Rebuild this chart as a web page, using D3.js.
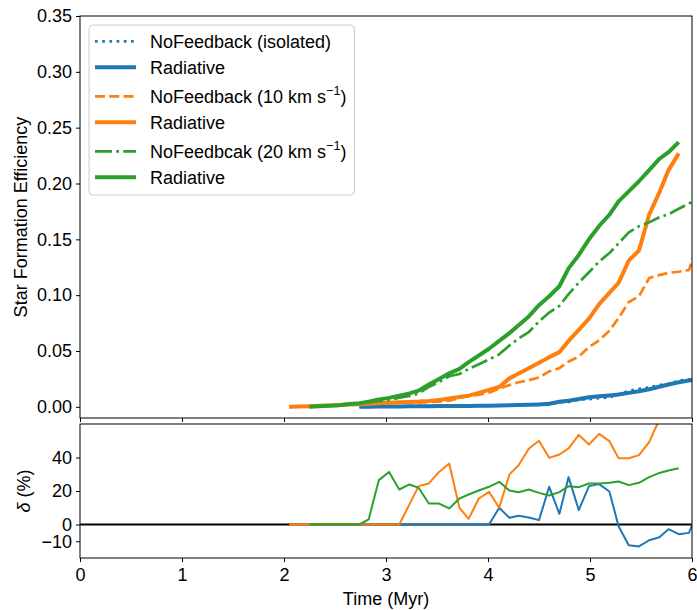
<!DOCTYPE html>
<html>
<head>
<meta charset="utf-8">
<script src="https://cdn.jsdelivr.net/npm/d3@7"></script>
<style>
body { margin: 0; background: #fff; }
svg text { font-family: "Liberation Sans", Arial, Helvetica, sans-serif; fill: #000; }
</style>
</head>
<body>
<div class="container"></div>
<script>
// snapshot times (Myr)
var timeMyr = [2.05,2.15,2.25,2.34,2.44,2.54,2.64,2.74,2.83,2.93,3.03,3.13,3.23,3.32,3.42,3.52,3.62,3.72,3.81,3.91,
               4.01,4.11,4.21,4.30,4.40,4.50,4.60,4.70,4.79,4.89,4.99,5.09,5.19,5.28,5.38,5.48,5.58,5.68,5.77,5.87,5.97,6.07];

// star formation efficiency, null = no data at that time
var isoNoFb = [null,null,null,null,null,null,null,
  0.0000,0.0001,0.0002,0.0003,0.0004,0.0005,0.0005,0.0006,0.0007,0.0007,0.0008,0.0008,0.0009,0.0010,
  0.0011,0.0013,0.0015,0.0017,0.0021,0.0022,0.0042,0.0043,0.0064,0.0069,0.0077,0.0085,0.0111,0.0143,
  0.0161,0.0174,0.0195,0.0206,0.0234,0.0247,0.0232];
var isoRad = [null,null,null,null,null,null,null,
  0.0000,0.0001,0.0002,0.0003,0.0004,0.0005,0.0005,0.0006,0.0007,0.0007,0.0008,0.0008,0.0009,0.0010,
  0.0012,0.0014,0.0016,0.0018,0.0022,0.0027,0.0045,0.0055,0.0070,0.0085,0.0095,0.0102,0.0110,0.0125,
  0.0140,0.0158,0.0180,0.0200,0.0220,0.0235,0.0255];
var v10NoFb = [0.0000,0.0003,0.0006,0.0009,0.0012,0.0016,0.0020,0.0024,0.0028,0.0032,0.0036,0.0040,
  0.0039,0.0038,0.0043,0.0047,0.0055,0.0080,0.0097,0.0108,0.0127,0.0162,0.0196,0.0220,0.0238,0.0263,
  0.0318,0.0346,0.0406,0.0450,0.0535,0.0597,0.0681,0.0795,0.0938,0.0990,0.1153,0.1180,0.1200,0.1210,
  0.1225,0.1500];
var v10Rad = [0.0000,0.0003,0.0006,0.0009,0.0012,0.0016,0.0020,0.0024,0.0028,0.0032,0.0036,0.0040,
  0.0044,0.0047,0.0053,0.0062,0.0075,0.0088,0.0100,0.0125,0.0152,0.0178,0.0255,0.0298,0.0345,0.0395,
  0.0445,0.0490,0.0590,0.0690,0.0790,0.0920,0.1020,0.1110,0.1310,0.1400,0.1720,0.1920,0.2120,0.2270,
  null,null];
var v20NoFb = [null,null,
  0.0000,0.0005,0.0010,0.0015,0.0025,0.0033,0.0044,0.0051,0.0061,0.0083,0.0097,0.0119,0.0178,0.0222,
  0.0274,0.0294,0.0339,0.0382,0.0424,0.0470,0.0549,0.0612,0.0670,0.0765,0.0844,0.0905,0.1009,0.1112,
  0.1205,0.1301,0.1377,0.1464,0.1563,0.1617,0.1652,0.1697,0.1725,0.1774,0.1820,0.1880];
var v20Rad = [null,null,
  0.0000,0.0005,0.0010,0.0015,0.0025,0.0033,0.0045,0.0065,0.0080,0.0100,0.0120,0.0145,0.0200,0.0250,
  0.0300,0.0340,0.0400,0.0460,0.0520,0.0590,0.0660,0.0730,0.0810,0.0910,0.0990,0.1080,0.1240,0.1360,
  0.1500,0.1620,0.1720,0.1840,0.1930,0.2020,0.2120,0.2220,0.2280,0.2370,null,null];

// relative difference delta (%)
var deltaIso = [null,null,null,null,null,null,null,
  0,0,0,0,0,0,0,0,0,0,0,0,0,0,
  10.0,4.0,5.2,4.2,2.6,22.5,6.4,28.3,8.6,22.9,24.1,19.7,-1.0,-12.4,-13.1,-9.4,-7.6,-2.8,-5.8,-5.0,10.0];
var deltaV10 = [0,0,0,0,0,0,0,0,0,0,0,0,
  12.0,22.9,24.5,31.4,36.4,10.0,3.4,15.5,19.5,10.0,29.9,35.4,45.2,50.0,39.8,41.8,45.4,53.5,47.8,54.1,
  49.8,39.6,39.6,41.4,49.2,62.7,76.7,87.6,null,null];
var deltaV20 = [null,null,0,0,0,0,0,0,
  3.0,26.5,31.4,20.9,23.9,21.9,12.5,12.5,9.6,15.5,17.9,20.3,22.5,25.5,20.3,19.3,20.9,18.9,17.3,19.3,
  22.9,22.3,24.5,24.5,24.9,25.7,23.5,24.9,28.3,30.8,32.2,33.6,null,null];

var sfeTicks = [0, 0.05, 0.10, 0.15, 0.20, 0.25, 0.30, 0.35];
var deltaTicks = [-10, 0, 20, 40];
var timeTicks = [0, 1, 2, 3, 4, 5, 6];

var blue = "#1f77b4", orange = "#ff7f0e", green = "#2ca02c";

var width = 697, height = 610;
var svg = d3.select(".container").append("svg")
  .attr("width", width).attr("height", height);

var x = d3.scaleLinear().domain([0, 6]).range([80, 692]);
var yTop = d3.scaleLinear().domain([-0.01, 0.35]).range([418, 16]);
var yBot = d3.scaleLinear().domain([-20, 60]).range([558, 424]);

// clip regions
var defs = svg.append("defs");
defs.append("clipPath").attr("id", "clipTop").append("rect")
  .attr("x", 80).attr("y", 16).attr("width", 612).attr("height", 402);
defs.append("clipPath").attr("id", "clipBot").append("rect")
  .attr("x", 80).attr("y", 424).attr("width", 612).attr("height", 134);

function pts(arr) {
  return timeMyr.map(function (t, i) { return [t, arr[i]]; });
}

// ---- top panel
var lineTop = d3.line()
  .defined(function (d) { return d[1] != null; })
  .x(function (d) { return x(d[0]); })
  .y(function (d) { return yTop(d[1]); });

var topSeries = [
  { data: isoNoFb, color: blue, w: 2.7, dash: "2.7,4.5", label: "NoFeedback (isolated)" },
  { data: isoRad, color: blue, w: 4, dash: null, label: "Radiative" },
  { data: v10NoFb, color: orange, w: 2.7, dash: "10,4.3", label: "NoFeedback (10 km s", sup: "\u22121", tail: ")" },
  { data: v10Rad, color: orange, w: 4, dash: null, label: "Radiative" },
  { data: v20NoFb, color: green, w: 2.7, dash: "17,4.3,2.7,4.3", label: "NoFeedbcak (20 km s", sup: "\u22121", tail: ")" },
  { data: v20Rad, color: green, w: 4, dash: null, label: "Radiative" }
];

var gTop = svg.append("g").attr("clip-path", "url(#clipTop)");
topSeries.forEach(function (s) {
  gTop.append("path")
    .attr("d", lineTop(pts(s.data)))
    .attr("fill", "none")
    .attr("stroke", s.color)
    .attr("stroke-width", s.w)
    .attr("stroke-dasharray", s.dash)
    .attr("stroke-linejoin", "round");
});

// ---- bottom panel
var lineBot = d3.line()
  .defined(function (d) { return d[1] != null; })
  .x(function (d) { return x(d[0]); })
  .y(function (d) { return yBot(d[1]); });

var gBot = svg.append("g").attr("clip-path", "url(#clipBot)");
gBot.append("line")
  .attr("x1", x(0)).attr("x2", x(6))
  .attr("y1", yBot(0)).attr("y2", yBot(0))
  .attr("stroke", "#000").attr("stroke-width", 2);
[[deltaIso, blue], [deltaV10, orange], [deltaV20, green]].forEach(function (s) {
  gBot.append("path")
    .attr("d", lineBot(pts(s[0])))
    .attr("fill", "none")
    .attr("stroke", s[1])
    .attr("stroke-width", 2)
    .attr("stroke-linejoin", "round");
});

// ---- axes
function styleAxis(g) {
  g.select(".domain").remove();
  g.selectAll(".tick line").attr("stroke", "#000").attr("stroke-width", 1);
  g.selectAll("text")
    .attr("font-size", 18)
    .attr("font-family", "'Liberation Sans', Arial, Helvetica, sans-serif")
    .attr("fill", "#000");
}

svg.append("g").attr("transform", "translate(80,0)")
  .call(d3.axisLeft(yTop).tickValues(sfeTicks).tickFormat(d3.format(".2f")).tickSize(4).tickPadding(4).tickSizeOuter(0))
  .call(styleAxis);
svg.append("g").attr("transform", "translate(0,418)")
  .call(d3.axisBottom(x).tickValues(timeTicks).tickFormat("").tickSize(4).tickSizeOuter(0))
  .call(styleAxis);
svg.append("g").attr("transform", "translate(80,0)")
  .call(d3.axisLeft(yBot).tickValues(deltaTicks).tickFormat(d3.format("d")).tickSize(4).tickPadding(4).tickSizeOuter(0))
  .call(styleAxis);
svg.append("g").attr("transform", "translate(0,558)")
  .call(d3.axisBottom(x).tickValues(timeTicks).tickFormat(d3.format("d")).tickSize(4).tickPadding(6).tickSizeOuter(0))
  .call(styleAxis);

// spines
svg.append("rect").attr("x", 80).attr("y", 16).attr("width", 612).attr("height", 402)
  .attr("fill", "none").attr("stroke", "#000").attr("stroke-width", 1);
svg.append("rect").attr("x", 80).attr("y", 424).attr("width", 612).attr("height", 134)
  .attr("fill", "none").attr("stroke", "#000").attr("stroke-width", 1);

// axis labels
svg.append("text")
  .attr("transform", "translate(27,217) rotate(-90)")
  .attr("text-anchor", "middle").attr("font-size", 18)
  .text("Star Formation Efficiency");
var dl = svg.append("text")
  .attr("transform", "translate(30,491) rotate(-90)")
  .attr("text-anchor", "middle").attr("font-size", 18);
dl.append("tspan").attr("font-style", "italic").text("\u03b4");
dl.append("tspan").text(" (%)");
svg.append("text")
  .attr("x", 386).attr("y", 605)
  .attr("text-anchor", "middle").attr("font-size", 18)
  .text("Time (Myr)");

// ---- legend
var leg = svg.append("g");
var frame = leg.append("rect")
  .attr("x", 89).attr("y", 25).attr("rx", 4).attr("ry", 4)
  .attr("fill", "#fff").attr("fill-opacity", 0.8)
  .attr("stroke", "#cccccc").attr("stroke-width", 1);

var rowY = 41.3, maxRight = 0;
topSeries.forEach(function (s, i) {
  if (i > 0) rowY += 26 + (s.sup ? 3 : 0);
  leg.append("line")
    .attr("x1", 95).attr("x2", 136)
    .attr("y1", rowY).attr("y2", rowY)
    .attr("stroke", s.color)
    .attr("stroke-width", s.w)
    .attr("stroke-dasharray", s.dash);
  var t = leg.append("text")
    .attr("x", 150).attr("y", rowY + 6.5)
    .attr("font-size", 18);
  t.append("tspan").text(s.label);
  if (s.sup) {
    t.append("tspan").attr("font-size", 12.6).attr("dy", -7.5).text(s.sup);
    t.append("tspan").attr("dy", 7.5).text(s.tail);
  }
  var bb = t.node().getBBox();
  maxRight = Math.max(maxRight, bb.x + bb.width);
});
frame.attr("width", maxRight + 8 - 89).attr("height", 170);
</script>
</body>
</html>
